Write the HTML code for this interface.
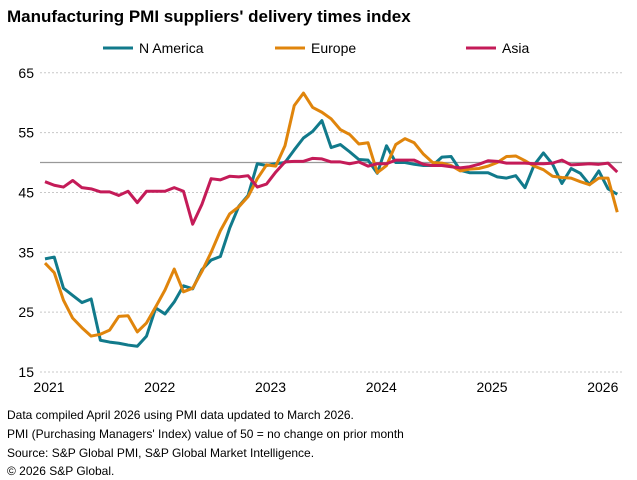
<!DOCTYPE html>
<html><head><meta charset="utf-8">
<style>
body{margin:0;background:#fff;font-family:"Liberation Sans",Arial,sans-serif;}
#wrap{position:relative;width:637px;height:480px;overflow:hidden;}
.t{position:absolute;white-space:nowrap;color:#000;}
</style></head><body>
<div id="wrap">
<div class="t" style="left:7px;top:7px;font-size:17px;font-weight:bold;">Manufacturing PMI suppliers' delivery times index</div>
<svg id="chart" width="637" height="480" style="position:absolute;left:0;top:0"></svg>
<div class="t" style="left:7px;top:406px;font-size:12px;line-height:18.8px;">Data compiled April 2026 using PMI data updated to March 2026.<br>PMI (Purchasing Managers' Index) value of 50 = no change on prior month<br>Source: S&amp;P Global PMI, S&amp;P Global Market Intelligence.<br>© 2026 S&amp;P Global.</div>
</div>
<script>
const yTicks=[15,25,35,45,55,65];
const xLabels=["2021","2022","2023","2024","2025","2026"];
const seriesNames=["N America","Europe","Asia"];
const nAmerica=[33.9,34.2,29.0,27.8,26.6,27.2,20.3,20.0,19.8,19.5,19.3,21.0,25.7,24.7,26.7,29.4,28.9,32.1,33.7,34.3,39.0,42.7,44.5,49.8,49.5,49.8,50.0,52.1,54.1,55.2,57.0,52.5,53.0,51.8,50.5,50.4,48.2,52.8,50.0,50.0,49.7,49.5,49.5,50.9,51.0,48.7,48.3,48.3,48.3,47.6,47.4,47.8,45.8,49.6,51.6,49.7,46.5,49.0,48.2,46.3,48.6,45.6,44.7];
const europe=[33.2,31.6,27.0,24.0,22.4,21.0,21.3,22.0,24.3,24.4,21.7,23.2,25.9,28.7,32.2,28.4,29.0,31.8,35.0,38.6,41.4,42.6,44.3,47.3,49.6,49.4,52.8,59.5,61.6,59.2,58.4,57.3,55.5,54.7,53.1,53.3,48.3,49.5,53.0,54.0,53.3,51.4,50.0,49.9,49.5,48.6,48.9,49.0,49.4,50.0,51.0,51.1,50.3,49.4,48.8,47.7,47.5,47.4,46.8,46.3,47.4,47.4,41.7];
const asia=[46.8,46.2,45.9,47.0,45.8,45.6,45.1,45.1,44.5,45.2,43.3,45.2,45.2,45.2,45.8,45.2,39.7,43.0,47.3,47.1,47.7,47.6,47.8,45.9,46.4,48.4,50.1,50.2,50.2,50.7,50.6,50.1,50.1,49.8,50.1,49.4,49.8,49.8,50.4,50.4,50.4,49.7,49.5,49.5,49.3,49.1,49.3,49.7,50.3,50.2,49.9,49.9,49.9,49.8,49.8,49.9,50.4,49.6,49.7,49.8,49.7,49.9,48.4];
const colors=["#117a8b","#e0850c","#c41b58"];
const NS="http://www.w3.org/2000/svg";
const svg=document.getElementById('chart');
const x0=45,step=9.23,xl=40,xr=622;
const yS=v=>372-(v-15)*5.985;
const xS=i=>x0+i*step;
function mk(t,a){const e=document.createElementNS(NS,t);for(const k in a)e.setAttribute(k,a[k]);svg.appendChild(e);return e;}
yTicks.forEach(v=>{
  const g=mk('line',{x1:xl,x2:xr,y1:yS(v),y2:yS(v),stroke:'#c8c8c8','stroke-width':1,'stroke-dasharray':'2,2'});
  
  
  const t=mk('text',{x:34,y:yS(v)+5,'text-anchor':'end','font-size':14,'font-family':'Liberation Sans, Arial, sans-serif',fill:'#000'});
  t.textContent=v;
  
  
});
const ref=mk('line',{x1:xl,x2:xr,y1:yS(50),y2:yS(50),stroke:'#999','stroke-width':1.3});


xLabels.forEach((l,i)=>{
  const t=mk('text',{x:xS(i*12)+4,y:392,'text-anchor':'middle','font-size':14,'font-family':'Liberation Sans, Arial, sans-serif',fill:'#000'});
  t.textContent=l;
  
  
});
[nAmerica,europe,asia].forEach((d,s)=>{
  const p=mk('polyline',{points:d.map((v,i)=>xS(i)+','+yS(v)).join(' '),fill:'none',stroke:colors[s],'stroke-width':3,'stroke-linejoin':'round'});
  
  
});
const legX=[103,275,466];
seriesNames.forEach((n,i)=>{
  const l=mk('line',{x1:legX[i],x2:legX[i]+30,y1:48,y2:48,stroke:colors[i],'stroke-width':3});
  
  
  const t=mk('text',{x:legX[i]+36,y:53,'font-size':14,'font-family':'Liberation Sans, Arial, sans-serif',fill:'#000'});
  t.textContent=n;
  
  
});
</script>
</body></html>
